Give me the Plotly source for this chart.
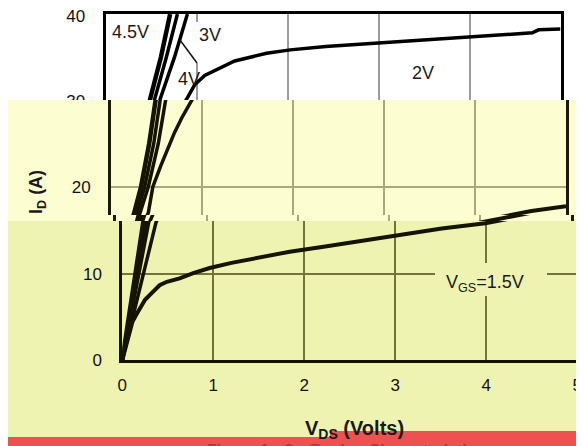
import plotly.graph_objects as go

W, H = 584, 446
# the page body keeps its 8px margin, so screen positions are shifted by it
OX, OY = 8, 8

# output curves: drain-source volts vs drain current (A)
vds_45 = [0, 0.23, 0.33, 0.42, 0.49, 0.61, 0.71]
id_45 = [0, 16, 20, 25, 30, 35, 40]
vds_4 = [0, 0.26, 0.37, 0.47, 0.54, 0.67, 0.79]
id_4 = [0, 16, 20, 25, 30, 35, 40]
vds_3 = [0, 0.29, 0.41, 0.52, 0.60, 0.76, 0.90]
id_3 = [0, 16, 20, 25, 30, 35, 40]
vds_2 = [0, 0.21, 0.37, 0.41, 0.46, 0.55, 0.63, 0.70, 0.78, 0.89, 0.98, 1.09,
         1.28, 1.42, 1.77, 2.03, 2.42, 3.0, 3.7, 4.0, 4.69, 4.76, 5.0]
id_2 = [0, 9.0, 16.0, 17.0, 20.0, 22.5, 24.5, 26.3, 28.0, 30.0, 31.7, 32.8,
        33.8, 34.5, 35.4, 35.8, 36.2, 36.6, 37.1, 37.3, 37.8, 38.15, 38.25]
vds_15 = [0, 0.11, 0.15, 0.21, 0.25, 0.32, 0.41, 0.49, 0.63, 0.78, 0.96, 1.2,
          1.5, 1.84, 2.23, 2.6, 2.96, 3.2, 3.51, 3.99, 4.42, 4.62, 5.0]
id_15 = [0, 4.4, 5.2, 6.2, 7.0, 7.75, 8.7, 9.1, 9.5, 10.1, 10.7, 11.3,
         11.9, 12.6, 13.2, 13.8, 14.4, 14.8, 15.3, 15.9, 16.8, 17.2, 17.75]

x_ticks = [0, 1, 2, 3, 4, 5]

curves = [
    (vds_45, id_45, 4.5),
    (vds_4, id_4, 3.5),
    (vds_3, id_3, 3.5),
    (vds_2, id_2, 3.5),
    (vds_15, id_15, 4),
]

FONT = "Liberation Sans, Arial, sans-serif"
SX = 91  # px per volt
MID_BG = "#fdfdd2"
LOW_BG = "#eef3b1"

# the picture is sliced into strips, each one a copy of the plot nudged sideways
bands = [
    dict(ax="", top=221, bottom=360, x0=122.3, y0=360, sy=8.6, yticks=[0, 10], shift=0,
         grid="#74743a", line="#111100", curve="#141400", xline=True, xside="bottom"),
    dict(ax="2", top=100, bottom=215, x0=111, y0=360, sy=8.665, yticks=[20], shift=0,
         grid="#a9a97c", line="#1a1a08", curve="#141400", xline=False, xside="bottom"),
    dict(ax="3", top=215, bottom=221, x0=116, y0=360, sy=8.63, yticks=[], shift=0,
         grid="#a9a97c", line="#1a1a08", curve="#141400", xline=False, xside="bottom"),
    dict(ax="4", top=14, bottom=100, x0=105.5, y0=355.2, sy=8.53, yticks=[30, 40], shift=2,
         grid="#9c9c9c", line="#000000", curve="#000000", xline=True, xside="top"),
]


def px(x):
    return (x - OX) / W


def py(y):
    return 1 - (y - OY) / H


fig = go.Figure()
layout = {}
for i, b in enumerate(bands):
    xa, ya = "x" + b["ax"], "y" + b["ax"]
    for vds, ids, lw in curves:
        fig.add_trace(go.Scatter(x=vds, y=ids, xaxis=xa, yaxis=ya, mode="lines",
                                 line=dict(color=b["curve"], width=lw),
                                 showlegend=False, hoverinfo="skip"))
    layout["xaxis" + b["ax"]] = dict(
        domain=[px(b["x0"]), px(b["x0"] + 5 * SX)], range=[0, 5], automargin=False,
        anchor=ya, side=b["xside"], tickvals=x_ticks, ticks="",
        showticklabels=(i == 0), ticklabelstandoff=8, ticklabeloverflow="allow",
        tickfont=dict(size=17, color="#111111"),
        showgrid=True, gridcolor=b["grid"], gridwidth=2 if i < 3 else 1.5,
        zeroline=False, showline=b["xline"], linecolor=b["line"], linewidth=3,
    )
    layout["yaxis" + b["ax"]] = dict(
        domain=[py(b["bottom"]), py(b["top"])], automargin=False,
        range=[(b["y0"] - b["bottom"]) / b["sy"], (b["y0"] - b["top"]) / b["sy"] + 0.01],
        anchor=xa, tickvals=b["yticks"], ticks="", ticklabelstandoff=14,
        ticklabeloverflow="allow", ticklabelshift=b["shift"],
        tickfont=dict(size=17, color="#111111"),
        showgrid=True, gridcolor=b["grid"], gridwidth=2 if i < 3 else 1.5,
        zeroline=False, showline=True, mirror=True, linecolor=b["line"], linewidth=3,
    )

low, top = bands[0], bands[3]


def rect(x0, y0, x1, y1, color, layer="below"):
    return dict(type="rect", xref="paper", yref="paper", x0=px(x0), x1=px(x1),
                y0=py(y1), y1=py(y0), fillcolor=color, line_width=0, layer=layer)


shapes = [
    rect(4, 100, W + OX, 221, MID_BG),
    rect(4, 221, W + OX, 437, LOW_BG),
    rect(4, 437, W + OX, H + OY, "#ef5050"),
    rect(330, 431, W + OX, 437, "#ef5050"),
    # lower half of the "30" label falls under the next strip
    rect(50, 100, 104, 112, MID_BG, layer="above"),
    # label boxes that break the grid
    dict(type="rect", xref="x", yref="y", layer="between", line_width=0, fillcolor=LOW_BG,
         x0=(435 - low["x0"]) / SX, x1=(547 - low["x0"]) / SX,
         y0=(low["y0"] - 296) / low["sy"], y1=(low["y0"] - 263) / low["sy"]),
    dict(type="rect", xref="x4", yref="y4", layer="between", line_width=0, fillcolor="white",
         x0=(192 - top["x0"]) / SX, x1=(202 - top["x0"]) / SX,
         y0=(top["y0"] - 63) / top["sy"], y1=(top["y0"] - 22) / top["sy"]),
    dict(type="line", xref="paper", yref="paper", x0=px(197), y0=py(63), x1=px(180), y1=py(40),
         line=dict(color="#111111", width=1.5), layer="above"),
]


def label(text, x, y, size=18, **kw):
    return dict(text=text, x=px(x), y=py(y), xref="paper", yref="paper", showarrow=False,
                xanchor="center", yanchor="middle", font=dict(size=size, color="#1a1a1a"), **kw)


annotations = [
    label("4.5V", 130, 32),
    label("3V", 210, 35),
    label("4V", 188.5, 79),
    label("2V", 422.5, 73),
    label("V<sub>GS</sub>=1.5V", 485, 283),
    label("<b>I<sub>D</sub> (A)</b>", 37, 192, textangle=-90),
    label("<b>V<sub>DS</sub> (Volts)</b>", 354, 429, size=20),
    dict(text="<b>Figure 1.  On-Region Characteristics</b>", x=px(346), y=py(440),
         xref="paper", yref="paper", showarrow=False, xanchor="center", yanchor="top",
         font=dict(size=16, color="#b53a3a")),
]

fig.update_layout(
    width=W, height=H,
    margin=dict(l=0, r=0, t=0, b=0, pad=0),
    paper_bgcolor="white", plot_bgcolor="rgba(0,0,0,0)",
    font=dict(family=FONT, color="#111111"),
    shapes=shapes, annotations=annotations,
    **layout,
)

fig.write_html("out.html")
